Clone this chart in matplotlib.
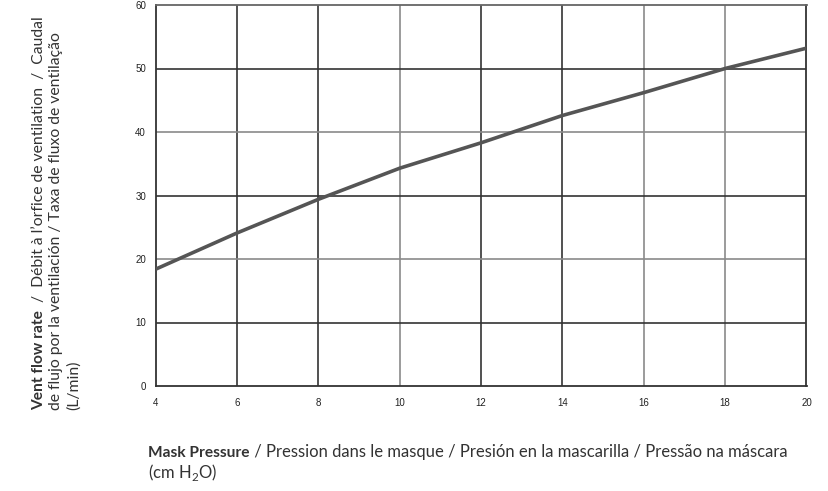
import matplotlib
matplotlib.use("Agg")
import matplotlib.pyplot as plt

# data
pressure = [4, 6, 8, 10, 12, 14, 16, 18, 20]
flow = [18.4, 24.1, 29.4, 34.3, 38.3, 42.6, 46.2, 50.0, 53.2]

x_ticks = [4, 6, 8, 10, 12, 14, 16, 18, 20]
y_ticks = [0, 10, 20, 30, 40, 50, 60]

# grid lines in the scan are not all the same shade
x_grid_cols = {6: "#333333", 8: "#333333", 10: "#8a8a8a", 12: "#333333",
               14: "#333333", 16: "#8a8a8a", 18: "#8a8a8a"}
y_grid_cols = {10: "#333333", 20: "#8a8a8a", 30: "#333333", 40: "#8a8a8a",
               50: "#333333"}

plt.rcParams['font.family'] = ['Lato', 'DejaVu Sans']
plt.rcParams['mathtext.fontset'] = 'custom'
plt.rcParams['mathtext.rm'] = 'Lato'

W, H = 829, 491
fig = plt.figure(figsize=(W / 100, H / 100), dpi=100)
ax = fig.add_axes([155.7 / W, 1 - 386 / H, (806.5 - 155.7) / W, (386 - 5) / H])

for xv, c in x_grid_cols.items():
    ax.axvline(xv, color=c, lw=1.2, zorder=1)
for yv, c in y_grid_cols.items():
    ax.axhline(yv, color=c, lw=1.2, zorder=1)

ax.plot(pressure, flow, color="#555555", lw=2.6, zorder=3, solid_capstyle='butt')

ax.set_xlim(4, 20)
ax.set_ylim(0, 60)
ax.set_xticks(x_ticks)
ax.set_yticks(y_ticks)
ax.tick_params(length=0, labelsize=7, colors="#222222")
ax.tick_params(axis='x', pad=9)
ax.tick_params(axis='y', pad=7)
for lab in ax.get_xticklabels() + ax.get_yticklabels():
    lab.set_family(['Liberation Sans', 'DejaVu Sans'])
for s in ['left', 'bottom', 'right']:
    ax.spines[s].set_color("#333333")
    ax.spines[s].set_linewidth(1.3)
ax.spines['top'].set_color("#666666")
ax.spines['top'].set_linewidth(1.3)

txt_col = "#333333"
fs_bold = 11.2
fs_x = 12.0
fs_y = 11.3

# x axis label, bold first part then the rest
t1 = fig.text(148 / W, 1 - 457 / H, "Mask Pressure", fontsize=fs_bold, weight='bold',
              color=txt_col, ha='left', va='baseline')
ax.annotate(" / Pression dans le masque / Presión en la mascarilla / Pressão na máscara",
            xy=(1, 1 - 457 / H), xycoords=(t1, 'figure fraction'), fontsize=fs_x,
            color=txt_col, ha='left', va='baseline', annotation_clip=False)
fig.text(148 / W, 1 - 478 / H, "(cm H$_2$O)", fontsize=fs_x, color=txt_col,
         ha='left', va='baseline')

# y axis label, rotated, three lines
bx = 43
y0 = 1 - 410 / H
t2 = fig.text(bx / W, y0, "Vent flow rate", fontsize=fs_bold, weight='bold', rotation=90,
              rotation_mode='anchor', color=txt_col, ha='left', va='baseline')
ax.annotate("  /  Débit à l\u2019orfice de ventilation  /  Caudal",
            xy=(bx, 1), xycoords=('figure pixels', t2), fontsize=fs_y, rotation=90,
            rotation_mode='anchor', color=txt_col, ha='left', va='baseline',
            annotation_clip=False)
fig.text((bx + 17.5) / W, y0, "de flujo por la ventilación / Taxa de fluxo de ventilação",
         fontsize=fs_y, rotation=90, rotation_mode='anchor', color=txt_col,
         ha='left', va='baseline')
fig.text((bx + 35) / W, y0, "(L/min)", fontsize=fs_y, rotation=90,
         rotation_mode='anchor', color=txt_col, ha='left', va='baseline')

fig.savefig("out.png", dpi=100)
